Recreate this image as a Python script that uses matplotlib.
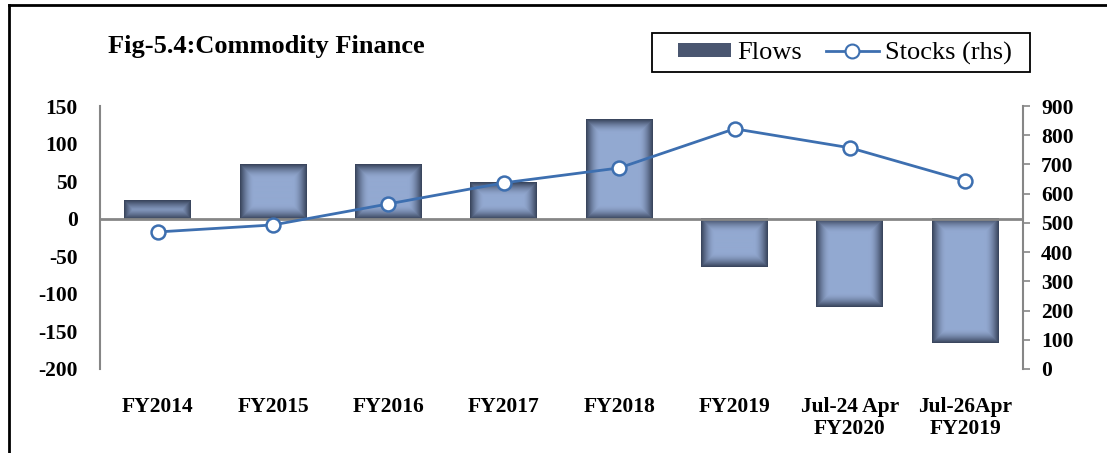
import numpy as np
import matplotlib
matplotlib.use("Agg")
from matplotlib import pyplot as plt
from matplotlib.lines import Line2D
from matplotlib.patches import Patch, Rectangle

categories = ["FY2014", "FY2015", "FY2016", "FY2017", "FY2018", "FY2019",
              "Jul-24 Apr\nFY2020", "Jul-26Apr\nFY2019"]
flows = [24, 72, 72, 49, 133, -64, -117, -166]
stocks = [469, 493, 565, 637, 688, 822, 757, 644]

plt.rcParams['font.family'] = ['Liberation Serif', 'DejaVu Serif']
plt.rcParams['axes.unicode_minus'] = False

W, H, DPI = 11.07, 4.53, 100
fig = plt.figure(figsize=(W, H), dpi=DPI)
ax = fig.add_axes([100 / 1107, 1 - 369 / 453, 923 / 1107, 263 / 453])
ax2 = ax.twinx()

x = np.arange(len(categories))
bar_w = 0.58

# gradient bars: dark edges, light centre
dark = np.array([0x3a, 0x46, 0x5e]) / 255
light = np.array([0x93, 0xa9, 0xd1]) / 255
px_per_x = 923 / len(categories)
px_per_y = 263 / 350.0
edge = 14.0
for xi, v in zip(x, flows):
    nx = max(int(round(bar_w * px_per_x)), 2)
    ny = max(int(round(abs(v) * px_per_y)), 2)
    i = np.arange(nx)
    j = np.arange(ny)
    di = np.minimum(i, nx - 1 - i)[None, :]
    dj = np.minimum(j, ny - 1 - j)[:, None]
    t = np.clip(np.minimum(di, dj) / edge, 0, 1)
    t = np.sin(t * np.pi / 2)
    img = dark[None, None, :] + (light - dark)[None, None, :] * t[:, :, None]
    ax.imshow(img, extent=(xi - bar_w / 2, xi + bar_w / 2, min(0, v), max(0, v)),
              aspect='auto', origin='lower', zorder=2, interpolation='bilinear')
ax.set_xlim(-0.5, len(categories) - 0.5)
ax.set_ylim(-200, 150)
ax.axhline(0, color='#868686', lw=2, zorder=3)

line_color = '#3d6fb0'
ax2.plot(x, stocks, color=line_color, lw=2, marker='o', markersize=10,
         markerfacecolor='white', markeredgecolor=line_color, markeredgewidth=1.8, zorder=4)
ax2.set_ylim(0, 900)
ax2.set_yticks(range(0, 901, 100))

ax.set_yticks(range(-200, 151, 50))
ax.set_xticks(x)
ax.set_xticklabels(categories)

for a in (ax, ax2):
    for s in a.spines.values():
        s.set_visible(False)
ax.spines['left'].set_visible(True)
ax.spines['left'].set_color('#868686')
ax.spines['left'].set_linewidth(1.5)
ax2.spines['right'].set_visible(True)
ax2.spines['right'].set_color('#868686')
ax2.spines['right'].set_linewidth(1.5)

fs = 15.5
ax.tick_params(axis='y', length=0, pad=16, labelsize=fs)
ax.tick_params(axis='x', length=0, pad=20, labelsize=fs)
ax2.tick_params(axis='y', length=5, width=1.2, color='#868686', pad=8, labelsize=fs)
for lbl in ax.get_yticklabels() + ax.get_xticklabels() + ax2.get_yticklabels():
    lbl.set_fontweight('bold')
for lbl in ax.get_xticklabels():
    lbl.set_linespacing(1.15)

fig.text(108 / 1107, 1 - 47 / 453, "Fig-5.4:Commodity Finance", fontsize=19,
         fontweight='bold', va='center', ha='left')

handles = [Patch(facecolor='#4a5670', edgecolor='none'),
           Line2D([], [], color=line_color, lw=2, marker='o', markersize=10,
                  markerfacecolor='white', markeredgecolor=line_color, markeredgewidth=1.5)]
leg = fig.legend(handles, ["Flows", "Stocks (rhs)"], loc='center left',
                 bbox_to_anchor=(678 / 1107, 1 - 53 / 453), ncol=2, fontsize=19,
                 frameon=False, handlelength=2.0, handleheight=0.45,
                 columnspacing=0.9, handletextpad=0.25, borderpad=0, borderaxespad=0)
fig.add_artist(Rectangle((652 / 1107, 1 - 72 / 453), 378 / 1107, 39 / 453, fill=False,
                         ec='black', lw=1.3, transform=fig.transFigure))

# outer frame lines
fig.add_artist(Line2D([9 / 1107, 9 / 1107], [0, 1 - 5 / 453], color='black', lw=2,
                      transform=fig.transFigure))
fig.add_artist(Line2D([9 / 1107, 1], [1 - 5 / 453, 1 - 5 / 453], color='black', lw=2,
                      transform=fig.transFigure))

fig.savefig("out.png", dpi=DPI)
